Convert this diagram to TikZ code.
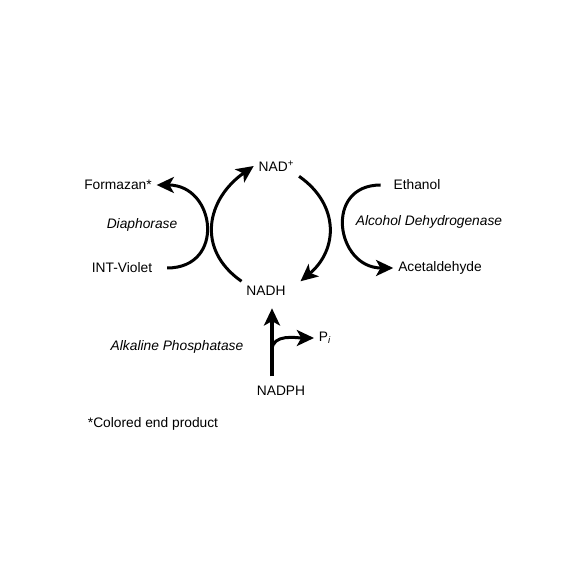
\documentclass[tikz,border=0pt]{standalone}
\usepackage{fontspec}
\setmainfont{Liberation Sans}
\usetikzlibrary{arrows.meta,positioning}

\begin{document}
\begin{tikzpicture}[on grid,
    font=\fontsize{9.8}{11.5}\selectfont,
    react/.style={-{Stealth[length=0.43cm,width=0.4cm,inset=0.11cm]},line width=0.075cm},
    enzyme/.style={font=\fontsize{9.8}{11.5}\selectfont\itshape}]
  \useasboundingbox (0,0) rectangle (14.6,14.6);
            \node (nadh) at (6.65,7.325) {NADH};
            \node[above right=3.125cm and 0.26cm of nadh] (nad) {NAD\textsuperscript{+}};
            \node[below right=2.5cm and 0.375cm of nadh] (nadph) {NADPH};
            \node[above right=1.325cm and 1.1cm of nadph] (pi) {P\textsubscript{\itshape i}};
            \node[above left=0.575cm and 3.6cm of nadh] (intviolet) {INT-Violet};
            \node[above left=2.075cm and 0.1cm of intviolet] (formazan) {Formazan*};
            \node[enzyme, above right=1.075cm and 0.5cm of intviolet] (diaphorase) {Diaphorase};
            \node[above right=0.575cm and 4.35cm of nadh] (acetaldehyde) {Acetaldehyde};
            \node[above left=2.075cm and 0.575cm of acetaldehyde] (ethanol) {Ethanol};
            \node[enzyme, above left=1.15cm and 0.275cm of acetaldehyde] (adh) {Alcohol Dehydrogenase};
            \node[enzyme, above left=1.1cm and 2.6cm of nadph] (alkphos) {Alkaline Phosphatase};
            \node[below left=0.825cm and 3.2cm of nadph] (note) {*Colored end product};
            % cycle
            \draw[react] (nadh.north west) to[out=145,in=215,looseness=1.25] (nad.west);
            \draw[react] (nad.south east) to[out=-35,in=40,looseness=1.2] ([xshift=0.25cm]nadh.north east);
            % side reactions
            \draw[react] ([xshift=0.25cm]intviolet.east) to[out=0,in=0,looseness=1.8] (formazan.east);
            \draw[react] ([xshift=-0.2cm]ethanol.west) to[out=180,in=180,looseness=1.75] (acetaldehyde.west);
            \draw[react, line width=0.1cm, shorten <=0.125cm, shorten >=0.19cm] ([xshift=-0.225cm]nadph.north) -- ([xshift=0.15cm]nadh.south);
            \draw[react] ([xshift=-0.225cm,yshift=0.775cm]nadph.north) to[out=90,in=180] (pi.west);
        \end{tikzpicture}
\end{document}
